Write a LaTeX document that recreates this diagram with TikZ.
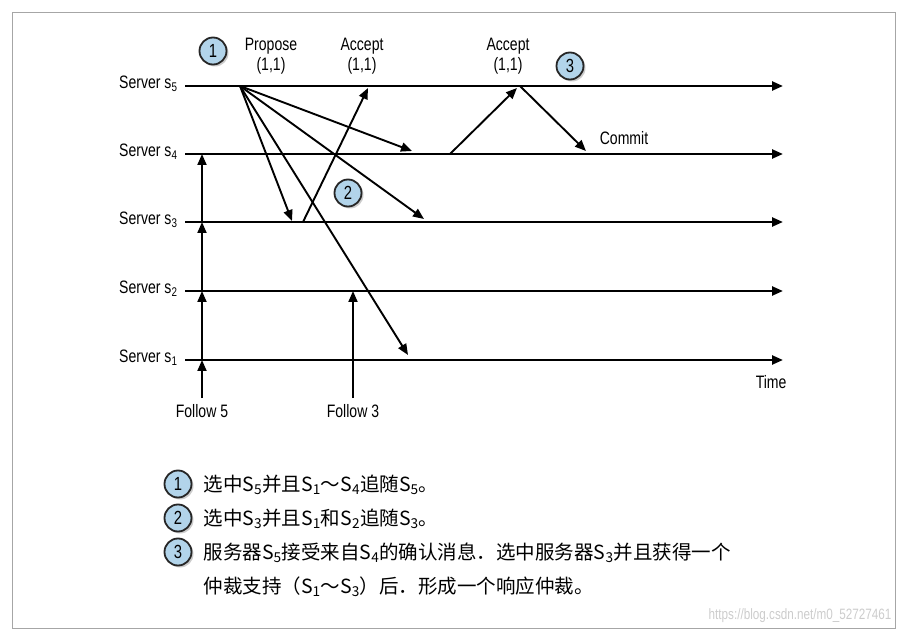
\documentclass[tikz,border=0pt]{standalone}
\usepackage{fontspec}
\setmainfont{Liberation Sans}[FakeStretch=0.78]
\newfontfamily\cjk{Noto Sans CJK SC}
\usetikzlibrary{arrows.meta,shadows}
\newcommand{\sub}[1]{\textsubscript{#1}}
\definecolor{cfill}{RGB}{178,212,234}
\begin{document}
\begin{tikzpicture}[x=1pt,y=-1pt,
  tl/.style={line width=2.4pt,-{Triangle[length=11pt,width=9pt]}},
  ar/.style={line width=1.9pt,-{Triangle[length=11pt,width=9pt]}},
  lbl/.style={font=\fontsize{18}{20}\selectfont},
  num/.style={circle,draw=black!85,line width=1.8pt,fill=cfill,minimum size=27pt,inner sep=0pt,font=\fontsize{19}{20}\selectfont,drop shadow={shadow xshift=2pt,shadow yshift=-2pt,opacity=0.4}},
  lg/.style={anchor=west,font=\cjk\fontsize{19.5}{21}\selectfont}]
\useasboundingbox (0,0) rectangle (906,639);
\draw[gray!70,line width=0.8pt] (12,12) rectangle (895,628);
% server lines
\foreach \i/\y in {5/86,4/154,3/222,2/291,1/360}{
  \coordinate (L\i) at (185,\y);
  \coordinate (R\i) at (783,\y);
  \draw[tl] (L\i) -- (R\i);
  \node[lbl,anchor=east] (S\i) at (181,\y-2) {Server s\sub{\i}};
}
\node[lbl,anchor=north east] (time) at (790,372) {Time};
% follow arrows
\coordinate (f5) at (202,398);
\coordinate (a1) at (202,360);
\coordinate (a2) at (202,291);
\coordinate (a3) at (202,222);
\coordinate (a4) at (202,154);
\draw[ar] (f5) -- (a1);
\draw[ar] (a1) -- (a2);
\draw[ar] (a2) -- (a3);
\draw[ar] (a3) -- (a4);
\node[lbl] (fl5) at (202,411) {Follow 5};
\coordinate (f3) at (353,398);
\coordinate (b2) at (353,291);
\draw[ar] (f3) -- (b2);
\node[lbl] (fl3) at (353,411) {Follow 3};
% propose
\coordinate (p) at (240,86);
\coordinate (p1) at (292,221);
\coordinate (p2) at (412,151);
\coordinate (p3) at (424,219);
\coordinate (p4) at (408,355);
\foreach \t in {p1,p2,p3,p4} \draw[ar] (p) -- (\t);
\node[lbl,align=center] (prop) at (271,56) {Propose\\(1,1)};
% accept from s3
\coordinate (c3) at (303,222);
\coordinate (c5) at (368,88);
\draw[ar] (c3) -- (c5);
\node[lbl,align=center] (acc1) at (362,56) {Accept\\(1,1)};
% accept from s4
\coordinate (d4) at (450,154);
\coordinate (d5) at (517,88);
\draw[ar] (d4) -- (d5);
\node[lbl,align=center] (acc2) at (508,56) {Accept\\(1,1)};
\coordinate (e5) at (520,86);
\coordinate (e4) at (586,151);
\draw[ar] (e5) -- (e4);
\node[lbl] (com) at (624,138) {Commit};
% circles
\node[num] (n1) at (213,51) {1};
\node[num] (n2) at (348,193) {2};
\node[num] (n3) at (570,66) {3};
% legend
\node[num] (m1) at (178,484) {1};
\node[num] (m2) at (178,518) {2};
\node[num] (m3) at (178,552) {3};
\node[lg] (t1) at (200,485) {选中S\sub{5}并且S\sub{1}～S\sub{4}追随S\sub{5}。};
\node[lg] (t2) at (200,519) {选中S\sub{3}并且S\sub{1}和S\sub{2}追随S\sub{3}。};
\node[lg] (t3) at (200,553) {服务器S\sub{5}接受来自S\sub{4}的确认消息．选中服务器S\sub{3}并且获得一个};
\node[lg] (t4) at (200,587) {仲裁支持（S\sub{1}～S\sub{3}）后．形成一个响应仲裁。};
\node[anchor=east,gray!40,font=\fontsize{15}{16}\selectfont] (wm) at (895,616) {https://blog.csdn.net/m0\_52727461};
\end{tikzpicture}
\end{document}
